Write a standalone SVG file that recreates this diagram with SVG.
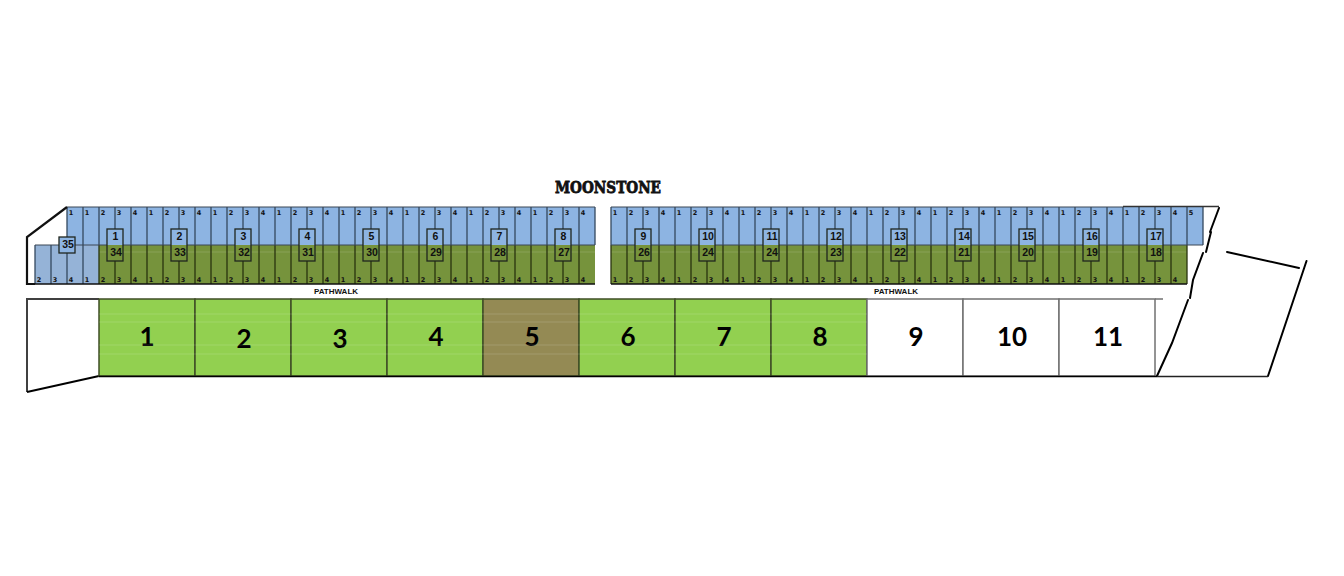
<svg xmlns="http://www.w3.org/2000/svg" xmlns:xlink="http://www.w3.org/1999/xlink" width="1344" height="576" viewBox="0 0 1344 576">
<style>
.bl{fill:#8db4e2}.gr{fill:#76933c}
.gb{fill:none;stroke:#34495f;stroke-width:1.3}
.gg{fill:none;stroke:#28330f;stroke-width:1.3}
.edge{fill:none;stroke:#111;stroke-width:1.5}
.ink{fill:none;stroke:#000;stroke-width:2;stroke-linecap:round}
.n{font:bold 6.5px "DejaVu Sans",sans-serif;fill:#111;text-anchor:middle}
.m{font:bold 10.5px "Liberation Sans",sans-serif;fill:#111;text-anchor:middle}
.p{font:bold 8px "Liberation Sans",sans-serif;fill:#111;text-anchor:middle}
.t{font:bold 26px Lato,"Liberation Sans",sans-serif;fill:#000;text-anchor:middle}
.lot{stroke:#3f4d26;stroke-width:1.5}
.w{fill:#fff;stroke:#707070;stroke-width:1.5}
.sh{stroke:#fff;stroke-opacity:.14;stroke-width:1;fill:none}
</style>
<defs>
<g id="box"><rect x="-8" y="0" width="16" height="16" class="bl"/><rect x="-8" y="16" width="16" height="16" class="gr"/><rect x="-8" y="0" width="16" height="32" fill="none" stroke="#1f261e" stroke-width="1.3"/></g>
</defs>
<text id="title" x="608" y="193" text-anchor="middle" textLength="106" lengthAdjust="spacingAndGlyphs" style="font:bold 16.5px 'DejaVu Serif',serif;fill:#111;stroke:#111;stroke-width:.8">MOONSTONE</text>
<g id="stalls-left">
<rect x="67" y="207" width="528" height="38" class="bl"/>
<rect x="35" y="245" width="64" height="39" fill="#95b3d7"/>
<rect x="99" y="245" width="496" height="39" class="gr"/>
<path class="sh" d="M99 252H595"/>
</g>
<g id="stalls-right">
<rect x="611" y="207" width="592" height="38" class="bl"/>
<rect x="611" y="245" width="576" height="39" class="gr"/>
<path class="sh" d="M611 252H1187"/>
</g>
<g id="connectors">
<path class="gb" d="M67 207v38m16-38v38m16-38v38m16-38v38m16-38v38m16-38v38m16-38v38m16-38v38m16-38v38m16-38v38m16-38v38m16-38v38m16-38v38m16-38v38m16-38v38m16-38v38m16-38v38m16-38v38m16-38v38m16-38v38m16-38v38m16-38v38m16-38v38m16-38v38m16-38v38m16-38v38m16-38v38m16-38v38m16-38v38m16-38v38m16-38v38m16-38v38m16-38v38m16-38v38"/>
<path class="gb" d="M35 245v39m16-39v39m16-39v39m16-39v39"/>
<path class="gg" d="M99 245v39m16-39v39m16-39v39m16-39v39m16-39v39m16-39v39m16-39v39m16-39v39m16-39v39m16-39v39m16-39v39m16-39v39m16-39v39m16-39v39m16-39v39m16-39v39m16-39v39m16-39v39m16-39v39m16-39v39m16-39v39m16-39v39m16-39v39m16-39v39m16-39v39m16-39v39m16-39v39m16-39v39m16-39v39m16-39v39m16-39v39"/>
<path class="gb" d="M611 207v38m16-38v38m16-38v38m16-38v38m16-38v38m16-38v38m16-38v38m16-38v38m16-38v38m16-38v38m16-38v38m16-38v38m16-38v38m16-38v38m16-38v38m16-38v38m16-38v38m16-38v38m16-38v38m16-38v38m16-38v38m16-38v38m16-38v38m16-38v38m16-38v38m16-38v38m16-38v38m16-38v38m16-38v38m16-38v38m16-38v38m16-38v38m16-38v38m16-38v38m16-38v38m16-38v38m16-38v38m16-38v38"/>
<path class="gg" d="M611 245v39m16-39v39m16-39v39m16-39v39m16-39v39m16-39v39m16-39v39m16-39v39m16-39v39m16-39v39m16-39v39m16-39v39m16-39v39m16-39v39m16-39v39m16-39v39m16-39v39m16-39v39m16-39v39m16-39v39m16-39v39m16-39v39m16-39v39m16-39v39m16-39v39m16-39v39m16-39v39m16-39v39m16-39v39m16-39v39m16-39v39m16-39v39m16-39v39m16-39v39m16-39v39m16-39v39m16-39v39"/>
<path fill="none" stroke="#3a4654" stroke-width="1" d="M35 245H595M611 245H1203M67 207H595M611 207H1123"/>
<path class="edge" d="M27 284H595M611 284H1187"/>
<path fill="none" stroke="#111" stroke-width="2.2" d="M67 207L27 237V284H35"/>
<path fill="none" stroke="#333" stroke-width="1.5" d="M1123 206.500H1219"/>
<path class="ink" d="M1219 208L1210 232M1211 232L1206 252M1203 253L1193 280L1190 298M1188 300L1172 343L1157 376M1268 376L1306.500 261M1227 252L1299 268"/>
<path fill="none" stroke="#222" stroke-width="1.500" d="M1157 376.500H1268"/>
</g>
<g id="cell-numbers">
<text class="n" x="71" y="215">1</text><text class="n" x="87" y="215">1</text><text class="n" x="103" y="215">2</text><text class="n" x="119" y="215">3</text><text class="n" x="135" y="215">4</text><text class="n" x="151" y="215">1</text><text class="n" x="167" y="215">2</text><text class="n" x="183" y="215">3</text><text class="n" x="199" y="215">4</text><text class="n" x="215" y="215">1</text><text class="n" x="231" y="215">2</text><text class="n" x="247" y="215">3</text><text class="n" x="263" y="215">4</text><text class="n" x="279" y="215">1</text><text class="n" x="295" y="215">2</text><text class="n" x="311" y="215">3</text><text class="n" x="327" y="215">4</text><text class="n" x="343" y="215">1</text><text class="n" x="359" y="215">2</text><text class="n" x="375" y="215">3</text><text class="n" x="391" y="215">4</text><text class="n" x="407" y="215">1</text><text class="n" x="423" y="215">2</text><text class="n" x="439" y="215">3</text><text class="n" x="455" y="215">4</text><text class="n" x="471" y="215">1</text><text class="n" x="487" y="215">2</text><text class="n" x="503" y="215">3</text><text class="n" x="519" y="215">4</text><text class="n" x="535" y="215">1</text><text class="n" x="551" y="215">2</text><text class="n" x="567" y="215">3</text><text class="n" x="583" y="215">4</text>
<text class="n" x="39" y="282">2</text><text class="n" x="55" y="282">3</text><text class="n" x="71" y="282">4</text><text class="n" x="87" y="282">1</text><text class="n" x="103" y="282">2</text><text class="n" x="119" y="282">3</text><text class="n" x="135" y="282">4</text><text class="n" x="151" y="282">1</text><text class="n" x="167" y="282">2</text><text class="n" x="183" y="282">3</text><text class="n" x="199" y="282">4</text><text class="n" x="215" y="282">1</text><text class="n" x="231" y="282">2</text><text class="n" x="247" y="282">3</text><text class="n" x="263" y="282">4</text><text class="n" x="279" y="282">1</text><text class="n" x="295" y="282">2</text><text class="n" x="311" y="282">3</text><text class="n" x="327" y="282">4</text><text class="n" x="343" y="282">1</text><text class="n" x="359" y="282">2</text><text class="n" x="375" y="282">3</text><text class="n" x="391" y="282">4</text><text class="n" x="407" y="282">1</text><text class="n" x="423" y="282">2</text><text class="n" x="439" y="282">3</text><text class="n" x="455" y="282">4</text><text class="n" x="471" y="282">1</text><text class="n" x="487" y="282">2</text><text class="n" x="503" y="282">3</text><text class="n" x="519" y="282">4</text><text class="n" x="535" y="282">1</text><text class="n" x="551" y="282">2</text><text class="n" x="567" y="282">3</text><text class="n" x="583" y="282">4</text>
<text class="n" x="615" y="215">1</text><text class="n" x="631" y="215">2</text><text class="n" x="647" y="215">3</text><text class="n" x="663" y="215">4</text><text class="n" x="679" y="215">1</text><text class="n" x="695" y="215">2</text><text class="n" x="711" y="215">3</text><text class="n" x="727" y="215">4</text><text class="n" x="743" y="215">1</text><text class="n" x="759" y="215">2</text><text class="n" x="775" y="215">3</text><text class="n" x="791" y="215">4</text><text class="n" x="807" y="215">1</text><text class="n" x="823" y="215">2</text><text class="n" x="839" y="215">3</text><text class="n" x="855" y="215">4</text><text class="n" x="871" y="215">1</text><text class="n" x="887" y="215">2</text><text class="n" x="903" y="215">3</text><text class="n" x="919" y="215">4</text><text class="n" x="935" y="215">1</text><text class="n" x="951" y="215">2</text><text class="n" x="967" y="215">3</text><text class="n" x="983" y="215">4</text><text class="n" x="999" y="215">1</text><text class="n" x="1015" y="215">2</text><text class="n" x="1031" y="215">3</text><text class="n" x="1047" y="215">4</text><text class="n" x="1063" y="215">1</text><text class="n" x="1079" y="215">2</text><text class="n" x="1095" y="215">3</text><text class="n" x="1111" y="215">4</text><text class="n" x="1127" y="215">1</text><text class="n" x="1143" y="215">2</text><text class="n" x="1159" y="215">3</text><text class="n" x="1175" y="215">4</text><text class="n" x="1191" y="215">5</text>
<text class="n" x="615" y="282">1</text><text class="n" x="631" y="282">2</text><text class="n" x="647" y="282">3</text><text class="n" x="663" y="282">4</text><text class="n" x="679" y="282">1</text><text class="n" x="695" y="282">2</text><text class="n" x="711" y="282">3</text><text class="n" x="727" y="282">4</text><text class="n" x="743" y="282">1</text><text class="n" x="759" y="282">2</text><text class="n" x="775" y="282">3</text><text class="n" x="791" y="282">4</text><text class="n" x="807" y="282">1</text><text class="n" x="823" y="282">2</text><text class="n" x="839" y="282">3</text><text class="n" x="855" y="282">4</text><text class="n" x="871" y="282">1</text><text class="n" x="887" y="282">2</text><text class="n" x="903" y="282">3</text><text class="n" x="919" y="282">4</text><text class="n" x="935" y="282">1</text><text class="n" x="951" y="282">2</text><text class="n" x="967" y="282">3</text><text class="n" x="983" y="282">4</text><text class="n" x="999" y="282">1</text><text class="n" x="1015" y="282">2</text><text class="n" x="1031" y="282">3</text><text class="n" x="1047" y="282">4</text><text class="n" x="1063" y="282">1</text><text class="n" x="1079" y="282">2</text><text class="n" x="1095" y="282">3</text><text class="n" x="1111" y="282">4</text><text class="n" x="1127" y="282">1</text><text class="n" x="1143" y="282">2</text><text class="n" x="1159" y="282">3</text><text class="n" x="1175" y="282">4</text>
</g>
<g id="markers">
<g id="m35"><rect x="59" y="237" width="16" height="16" fill="#8db4e2" stroke="#1f261e" stroke-width="1.300"/><text class="m" x="68" y="247.500">35</text></g>
<g id="m1-34"><use xlink:href="#box" href="#box" x="115" y="229"/><text class="m" x="115.500" y="240">1</text><text class="m" x="116" y="256">34</text></g>
<g id="m2-33"><use xlink:href="#box" href="#box" x="179" y="229"/><text class="m" x="179.500" y="240">2</text><text class="m" x="180" y="256">33</text></g>
<g id="m3-32"><use xlink:href="#box" href="#box" x="243" y="229"/><text class="m" x="243.500" y="240">3</text><text class="m" x="244" y="256">32</text></g>
<g id="m4-31"><use xlink:href="#box" href="#box" x="307" y="229"/><text class="m" x="307.500" y="240">4</text><text class="m" x="308" y="256">31</text></g>
<g id="m5-30"><use xlink:href="#box" href="#box" x="371" y="229"/><text class="m" x="371.500" y="240">5</text><text class="m" x="372" y="256">30</text></g>
<g id="m6-29"><use xlink:href="#box" href="#box" x="435" y="229"/><text class="m" x="435.500" y="240">6</text><text class="m" x="436" y="256">29</text></g>
<g id="m7-28"><use xlink:href="#box" href="#box" x="499" y="229"/><text class="m" x="499.500" y="240">7</text><text class="m" x="500" y="256">28</text></g>
<g id="m8-27"><use xlink:href="#box" href="#box" x="563" y="229"/><text class="m" x="563.500" y="240">8</text><text class="m" x="564" y="256">27</text></g>
<g id="m9-26"><use xlink:href="#box" href="#box" x="643" y="229"/><text class="m" x="643.500" y="240">9</text><text class="m" x="644" y="256">26</text></g>
<g id="m10-24"><use xlink:href="#box" href="#box" x="707" y="229"/><text class="m" x="708" y="240">10</text><text class="m" x="708" y="256">24</text></g>
<g id="m11-24"><use xlink:href="#box" href="#box" x="771" y="229"/><text class="m" x="772" y="240">11</text><text class="m" x="772" y="256">24</text></g>
<g id="m12-23"><use xlink:href="#box" href="#box" x="835" y="229"/><text class="m" x="836" y="240">12</text><text class="m" x="836" y="256">23</text></g>
<g id="m13-22"><use xlink:href="#box" href="#box" x="899" y="229"/><text class="m" x="900" y="240">13</text><text class="m" x="900" y="256">22</text></g>
<g id="m14-21"><use xlink:href="#box" href="#box" x="963" y="229"/><text class="m" x="964" y="240">14</text><text class="m" x="964" y="256">21</text></g>
<g id="m15-20"><use xlink:href="#box" href="#box" x="1027" y="229"/><text class="m" x="1028" y="240">15</text><text class="m" x="1028" y="256">20</text></g>
<g id="m16-19"><use xlink:href="#box" href="#box" x="1091" y="229"/><text class="m" x="1092" y="240">16</text><text class="m" x="1092" y="256">19</text></g>
<g id="m17-18"><use xlink:href="#box" href="#box" x="1155" y="229"/><text class="m" x="1156" y="240">17</text><text class="m" x="1156" y="256">18</text></g>
</g>
<g id="pathwalk"><text class="p" x="336" y="294">PATHWALK</text><text class="p" x="896" y="294">PATHWALK</text></g>
<g id="lot-blank-left"><path d="M99 299H27V392" fill="none" stroke="#404040" stroke-width="2"/><path d="M27 392L99 376" fill="none" stroke="#000" stroke-width="2"/></g>
<g id="lot1"><rect class="lot" x="99" y="299" width="96" height="77" fill="#92d050"/><text class="t" x="147" y="346">1</text></g>
<g id="lot2"><rect class="lot" x="195" y="299" width="96" height="77" fill="#92d050"/><text class="t" x="244" y="348">2</text></g>
<g id="lot3"><rect class="lot" x="291" y="299" width="96" height="77" fill="#92d050"/><text class="t" x="340" y="348">3</text></g>
<g id="lot4"><rect class="lot" x="387" y="299" width="96" height="77" fill="#92d050"/><text class="t" x="436" y="346">4</text></g>
<g id="lot5"><rect class="lot" x="483" y="299" width="96" height="77" fill="#948a54"/><text class="t" x="532" y="346">5</text></g>
<g id="lot6"><rect class="lot" x="579" y="299" width="96" height="77" fill="#92d050"/><text class="t" x="628" y="346">6</text></g>
<g id="lot7"><rect class="lot" x="675" y="299" width="96" height="77" fill="#92d050"/><text class="t" x="724" y="346">7</text></g>
<g id="lot8"><rect class="lot" x="771" y="299" width="96" height="77" fill="#92d050"/><text class="t" x="820" y="346">8</text></g>
<g id="lot9"><rect class="w" x="867" y="299" width="96" height="77"/><text class="t" x="916" y="346">9</text></g>
<g id="lot10"><rect class="w" x="963" y="299" width="96" height="77"/><text class="t" x="1012" y="346">10</text></g>
<g id="lot11"><rect class="w" x="1059" y="299" width="96" height="77"/><text class="t" x="1108" y="346">11</text></g>
<path class="sh" d="M99 314H867M99 322H867M99 345H867M99 354H867"/>
<path fill="none" stroke="#000" stroke-width="1.5" d="M99 376.500H1157"/>
<path fill="none" stroke="#707070" stroke-width="1.5" d="M1155 299H1163"/>
</svg>
